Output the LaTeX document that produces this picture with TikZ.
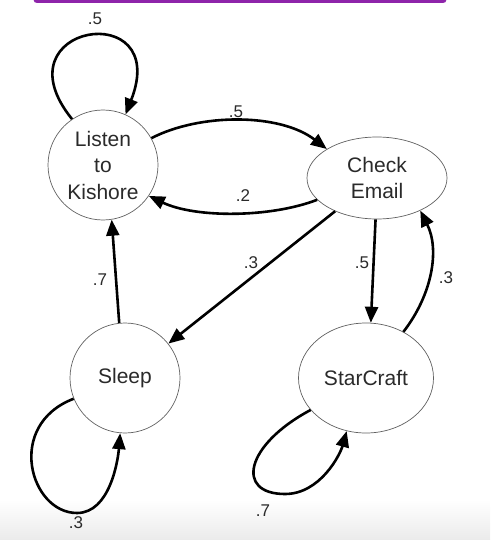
\documentclass[tikz,border=0pt]{standalone}
\usepackage{fontspec}
\setmainfont{Liberation Sans}
\usetikzlibrary{shapes.geometric,arrows.meta}
\definecolor{txt}{HTML}{2A2A2A}
\definecolor{purp}{HTML}{8E24AA}
\tikzset{
  state/.style={draw=gray!75!black, line width=0.7pt, inner sep=0pt, align=center,
    text=txt, font=\fontsize{21}{26.5}\selectfont},
  circ/.style={state, circle, minimum size=110pt},
  ell/.style={state, ellipse},
  arr/.style={line width=2.6pt, -{Triangle[length=16pt,width=13pt]}},
  lab/.style={text=txt, font=\fontsize{17}{20}\selectfont, inner sep=0pt}
}
\begin{document}
\begin{tikzpicture}[x=1pt,y=-1pt]
\useasboundingbox (0,0) rectangle (490,540);
\shade[top color=white, bottom color=black!8] (0,500) rectangle (490,540);
\draw[purp, line width=7pt, line cap=round] (37,0) -- (443,0);

\node[circ] (L) at (103,165) {Listen\\to\\Kishore};
\node[ell, minimum width=140pt, minimum height=82pt] (C) at (377,178) {Check\\Email};
\node[circ] (S) at (125,378) {Sleep};
\node[ell, minimum width=135pt, minimum height=110pt] (SC) at (366,378) {StarCraft};

% self loop Listen
\draw[arr] (L.124) .. controls (-5,24) and (172,-4) .. (L.66);
\node[lab] (l1) at (95,19) {.5};
% Listen -> Check
\draw[arr] (L.29) .. controls (200,113) and (280,113) .. (C.150);
\node[lab] (l2) at (236,112) {.5};
% Check -> Listen
\draw[arr] (C.200) .. controls (270,218) and (195,218) .. (L.-34);
\node[lab] (l3) at (243,196) {.2};
% Check -> Sleep
\draw[arr] (C) -- (S);
\node[lab] (l4) at (251,263) {.3};
% Check -> StarCraft
\draw[arr] (C.268) -- (SC.85);
\node[lab] (l5) at (362,263) {.5};
% StarCraft -> Check
\draw[arr] (SC.51) .. controls (432,295) and (440,250) .. (C.-37);
\node[lab] (l6) at (446,278) {.3};
% Sleep -> Listen
\draw[arr] (S.96) -- (L.-81);
\node[lab] (l7) at (100,280) {.7};
% Sleep self loop
\coordinate (sb) at (77,513);
\draw[arr] (S.202) .. controls (5,425) and (30,513) .. (sb)
  .. controls (110,513) and (118,460) .. (S.265);
\node[lab] (l8) at (76,523) {.3};
% StarCraft self loop
\coordinate (cb) at (285,494);
\draw[arr] (SC.210) .. controls (245,445) and (235,494) .. (cb)
  .. controls (320,494) and (340,455) .. (SC.250);
\node[lab] (l9) at (263,511) {.7};
\end{tikzpicture}
\end{document}
